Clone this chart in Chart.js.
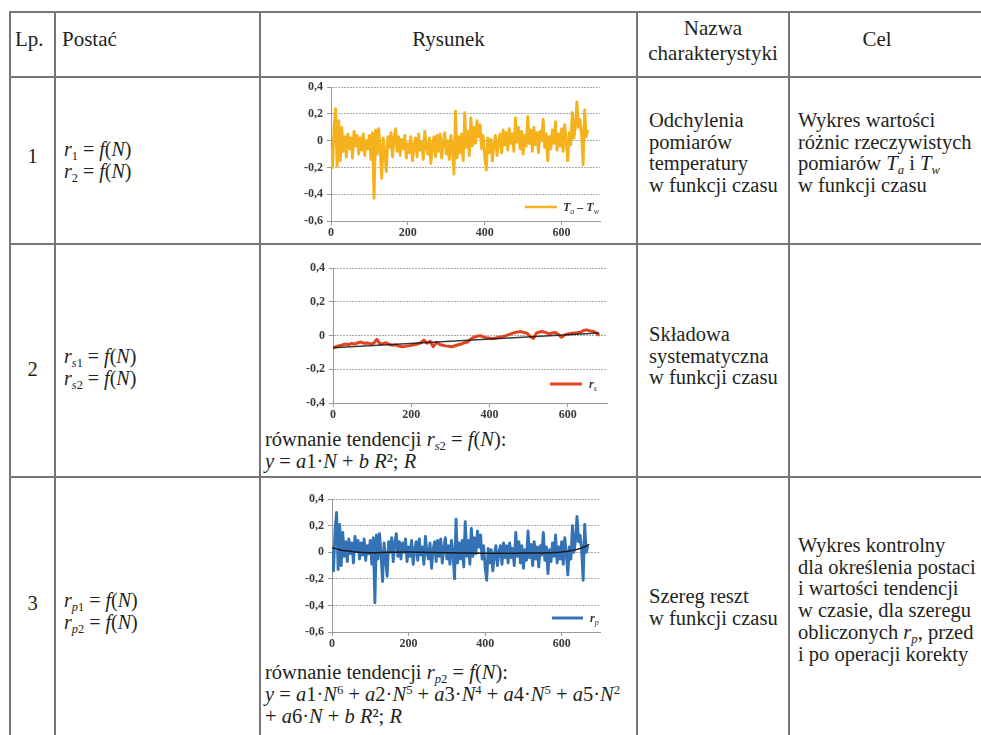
<!DOCTYPE html>
<html><head><meta charset="utf-8">
<script src="https://cdn.jsdelivr.net/npm/chart.js@4.4.1/dist/chart.umd.min.js"></script>
<style>
html,body{margin:0;padding:0;background:#fff;width:981px;height:735px;overflow:hidden;}
body{position:relative;font-family:"Liberation Serif","Times New Roman",Times,"DejaVu Serif",serif;color:#231f20;}
.hl{position:absolute;left:9px;width:980px;height:2px;background:#767676;}
.vl{position:absolute;top:11px;width:2px;height:730px;background:#767676;}
.h{position:absolute;font-size:21px;line-height:25px;white-space:nowrap;}
.t{position:absolute;font-size:20.5px;line-height:21.7px;white-space:nowrap;}
.f{position:absolute;font-size:20px;line-height:22px;white-space:nowrap;}
.e{position:absolute;font-size:20.5px;line-height:21.5px;white-space:nowrap;}
sub{font-size:0.62em;vertical-align:-0.3em;line-height:0;}
sup{font-size:0.62em;vertical-align:0.55em;line-height:0;}
.c{text-align:center;}
.cv{position:absolute;}
</style>
</head><body>
<div class="hl" style="top:11px"></div>
<div class="hl" style="top:76px"></div>
<div class="hl" style="top:243px"></div>
<div class="hl" style="top:476px"></div>
<div class="vl" style="left:9px"></div>
<div class="vl" style="left:54px"></div>
<div class="vl" style="left:259px"></div>
<div class="vl" style="left:636px"></div>
<div class="vl" style="left:788px"></div>

<div class="h" style="left:15px;top:27px">Lp.</div>
<div class="h" style="left:62px;top:27px">Postać</div>
<div class="h c" style="left:261px;width:375px;top:27px">Rysunek</div>
<div class="h c" style="left:638px;width:150px;top:16px">Nazwa<br>charakterystyki</div>
<div class="h c" style="left:790px;width:174px;top:27px">Cel</div>

<div class="t c" style="left:11px;width:43px;top:146px">1</div>
<div class="t c" style="left:11px;width:43px;top:359px">2</div>
<div class="t c" style="left:11px;width:43px;top:593px">3</div>

<div class="f" style="left:64px;top:138px"><i>r</i><sub>1</sub> = <i>f</i>(<i>N</i>)<br><i>r</i><sub>2</sub> = <i>f</i>(<i>N</i>)</div>
<div class="f" style="left:64px;top:345px"><i>r</i><sub><i>s</i>1</sub> = <i>f</i>(<i>N</i>)<br><i>r</i><sub><i>s</i>2</sub> = <i>f</i>(<i>N</i>)</div>
<div class="f" style="left:64px;top:589px"><i>r</i><sub><i>p</i>1</sub> = <i>f</i>(<i>N</i>)<br><i>r</i><sub><i>p</i>2</sub> = <i>f</i>(<i>N</i>)</div>

<div class="t" style="left:649px;top:110px">Odchylenia<br>pomiarów<br>temperatury<br>w funkcji czasu</div>
<div class="t" style="left:649px;top:324px">Składowa<br>systematyczna<br>w funkcji czasu</div>
<div class="t" style="left:649px;top:586px">Szereg reszt<br>w funkcji czasu</div>

<div class="t" style="left:798px;top:110px">Wykres wartości<br>różnic rzeczywistych<br>pomiarów <i>T</i><sub><i>a</i></sub> i <i>T</i><sub><i>w</i></sub><br>w funkcji czasu</div>
<div class="t" style="left:798px;top:535px">Wykres kontrolny<br>dla określenia postaci<br>i wartości tendencji<br>w czasie, dla szeregu<br>obliczonych <i>r</i><sub><i>p</i></sub>, przed<br>i po operacji korekty</div>

<div class="e" style="left:265px;top:429px">równanie tendencji <i>r</i><sub><i>s</i>2</sub> = <i>f</i>(<i>N</i>):<br><i>y</i> = <i>a</i>1·<i>N</i> + <i>b R</i>²; <i>R</i></div>
<div class="e" style="left:265px;top:661px;line-height:22px">równanie tendencji <i>r</i><sub><i>p</i>2</sub> = <i>f</i>(<i>N</i>):<br><i>y</i> = <i>a</i>1·<i>N</i><sup>6</sup> + <i>a</i>2·<i>N</i><sup>5</sup> + <i>a</i>3·<i>N</i><sup>4</sup> + <i>a</i>4·<i>N</i><sup>5</sup> + <i>a</i>5·<i>N</i><sup>2</sup><br>+ <i>a</i>6·<i>N</i> + <i>b R</i>²; <i>R</i></div>

<canvas id="c1" class="cv" width="323" height="167" style="left:285px;top:76px"></canvas>
<canvas id="c2" class="cv" width="328" height="168" style="left:287px;top:257px"></canvas>
<canvas id="c3" class="cv" width="322" height="166" style="left:286px;top:488px"></canvas>

<script>
// ---- data ----
const N_SAMPLES = [0,4,8,12,16,20,24,28,32,36,40,44,48,52,56,60,64,68,72,76,80,84,88,92,96,100,104,108,112,116,120,124,128,132,136,140,144,148,152,156,160,164,168,172,176,180,184,188,192,196,200,204,208,212,216,220,224,228,232,236,240,244,248,252,256,260,264,268,272,276,280,284,288,292,296,300,304,308,312,316,320,324,328,332,336,340,344,348,352,356,360,364,368,372,376,380,384,388,392,396,400,404,408,412,416,420,424,428,432,436,440,444,448,452,456,460,464,468,472,476,480,484,488,492,496,500,504,508,512,516,520,524,528,532,536,540,544,548,552,556,560,564,568,572,576,580,584,588,592,596,600,604,608,612,616,620,624,628,632,636,640,644,648,652,656,660,664,668];

// Ta - Tw (chart 1)
const R_DIFF = [-0.05,-0.2,0.1,0.24,-0.19,0.15,-0.15,0.1,-0.08,0.03,-0.12,0.05,-0.06,0.02,-0.13,0.07,-0.04,0.04,-0.1,0.02,-0.07,0.05,-0.11,0.0,-0.06,0.04,-0.14,0.06,-0.43,0.08,-0.1,0.09,-0.06,-0.28,0.02,-0.09,-0.23,0.03,-0.05,0.06,-0.12,0.02,0.09,-0.08,0.03,-0.11,0.01,-0.06,0.04,-0.13,-0.02,-0.09,0.03,-0.15,-0.04,0.02,-0.12,0.05,-0.07,-0.01,-0.14,0.07,-0.05,-0.1,0.02,-0.17,-0.03,0.03,-0.12,0.04,-0.08,0.05,-0.13,-0.02,0.06,-0.1,0.0,-0.14,0.04,-0.06,-0.25,0.22,-0.13,0.03,-0.09,0.05,-0.15,0.21,-0.05,0.07,-0.11,0.17,-0.04,0.1,-0.02,0.15,0.03,0.12,-0.06,0.04,-0.12,-0.22,0.02,-0.09,0.01,-0.15,-0.03,0.04,-0.11,-0.01,0.05,-0.09,0.08,-0.03,0.06,-0.07,0.09,-0.02,0.05,-0.08,0.17,-0.01,0.1,-0.06,0.07,-0.1,0.04,-0.04,0.18,-0.02,0.08,-0.08,0.1,-0.03,0.06,-0.09,0.07,0.0,0.16,-0.05,0.05,-0.15,0.03,-0.06,0.08,-0.02,0.14,-0.07,0.05,-0.04,0.09,-0.08,0.12,0.0,-0.15,0.06,-0.03,0.21,0.02,0.11,0.29,0.1,0.16,0.05,-0.18,0.23,0.03,0.08];

// r_s (chart 2)
const N_SYS = [0,8,16,24,32,40,48,56,64,72,80,88,96,104,112,120,128,136,144,152,160,168,176,184,192,200,208,216,224,232,240,248,256,264,272,280,288,296,304,312,320,328,336,344,352,360,368,376,384,392,400,408,416,424,432,440,448,456,464,472,480,488,496,504,512,520,528,536,544,552,560,568,576,584,592,600,608,616,624,632,640,648,656,664,672,680];
const R_SYS = [-0.072,-0.066,-0.06,-0.056,-0.05,-0.054,-0.047,-0.05,-0.042,-0.038,-0.046,-0.044,-0.049,-0.045,-0.022,-0.05,-0.047,-0.042,-0.053,-0.058,-0.055,-0.062,-0.066,-0.064,-0.061,-0.058,-0.054,-0.05,-0.043,-0.027,-0.045,-0.034,-0.066,-0.04,-0.052,-0.057,-0.061,-0.063,-0.066,-0.06,-0.054,-0.05,-0.042,-0.038,-0.02,-0.01,-0.004,0.0,-0.008,-0.012,-0.015,-0.018,-0.014,-0.01,-0.006,-0.002,0.004,0.012,0.018,0.022,0.024,0.018,0.014,-0.005,-0.017,0.016,0.021,0.024,0.018,0.01,0.016,0.019,0.006,-0.01,0.004,0.01,0.012,0.015,0.017,0.02,0.03,0.034,0.028,0.025,0.018,0.0];
const N_SYS_TREND = [0,680];
const R_SYS_TREND = [-0.072,0.016];

// r_p (chart 3)
const R_RES = [0.02,-0.14,0.17,0.3,-0.13,0.21,-0.1,0.15,-0.03,0.08,-0.07,0.1,-0.01,0.07,-0.08,0.12,0.01,0.09,-0.05,0.07,-0.02,0.1,-0.06,0.05,-0.01,0.09,-0.09,0.11,-0.38,0.13,-0.05,0.14,-0.01,-0.22,0.07,-0.04,-0.18,0.08,0.0,0.11,-0.07,0.07,0.14,-0.03,0.08,-0.05,0.07,0.0,0.1,-0.07,0.04,-0.03,0.09,-0.09,0.02,0.08,-0.06,0.1,-0.02,0.04,-0.09,0.12,0.0,-0.05,0.07,-0.12,0.02,0.08,-0.07,0.09,-0.03,0.1,-0.08,0.03,0.11,-0.05,0.05,-0.09,0.09,-0.01,-0.2,0.25,-0.08,0.07,-0.05,0.09,-0.11,0.23,-0.03,0.09,-0.09,0.18,-0.03,0.11,-0.01,0.16,0.04,0.13,-0.05,0.05,-0.11,-0.21,0.03,-0.08,0.02,-0.14,-0.02,0.05,-0.1,0.0,0.05,-0.09,0.07,-0.04,0.05,-0.08,0.07,-0.04,0.03,-0.1,0.15,-0.03,0.08,-0.08,0.05,-0.12,0.02,-0.06,0.16,-0.04,0.06,-0.1,0.08,-0.05,0.04,-0.11,0.05,-0.02,0.15,-0.06,0.04,-0.16,0.02,-0.07,0.07,-0.03,0.13,-0.08,0.04,-0.05,0.08,-0.09,0.11,-0.01,-0.17,0.04,-0.05,0.2,0.0,0.09,0.27,0.08,0.13,0.02,-0.21,0.21,0.0,0.05];
const N_RES_TREND = [0,20,40,60,100,150,200,250,300,350,400,450,500,550,580,600,620,640,660,672];
const R_RES_TREND = [0.035,0.02,0.01,0.003,-0.003,0.0,0.002,-0.001,-0.004,-0.006,-0.007,-0.007,-0.006,-0.005,-0.002,0.003,0.01,0.022,0.042,0.06];

const X_TICKS = [0,200,400,600];

// ---- helpers ----
const pts = (xs, ys) => xs.map((x, i) => ({x, y: ys[i]}));
const FONT = '"Liberation Serif", "Times New Roman", Times, "DejaVu Serif", serif';

const subLegend = {
  id: 'subLegend',
  afterDatasetsDraw(chart, args, o) {
    const {ctx, chartArea: a} = chart;
    const y = a.bottom - o.dy;
    const x1 = a.right - o.dx;
    ctx.save();
    ctx.strokeStyle = o.color; ctx.lineWidth = o.width; ctx.lineCap = 'butt';
    ctx.beginPath(); ctx.moveTo(x1 - o.len, y); ctx.lineTo(x1, y); ctx.stroke();
    let x = x1 + o.gap;
    ctx.fillStyle = '#333';
    ctx.textBaseline = 'alphabetic';
    for (const p of o.parts) {
      ctx.font = p.sub ? 'italic 8px ' + FONT : 'italic bold 12px ' + FONT;
      ctx.fillText(p.t, x, y + 4 + (p.sub ? 3 : 0));
      x += ctx.measureText(p.t).width;
    }
    ctx.restore();
  }
};

function makeChart(id, datasets, yMin, legend) {
  return new Chart(document.getElementById(id), {
    type: 'line',
    data: {datasets},
    options: {
      responsive: false, animation: false, devicePixelRatio: 1,
      layout: {padding: {top: 9, right: 8, left: 0, bottom: 0}},
      elements: {point: {radius: 0}, line: {tension: 0, borderJoinStyle: 'round'}},
      scales: {
        x: {
          type: 'linear', min: 0, max: 700,
          afterBuildTicks: s => { s.ticks = X_TICKS.map(v => ({value: v})); },
          afterFit: s => { s.height = 22; },
          ticks: {stepSize: 200, padding: 1, color: '#3a3a3a', maxRotation: 0,
                  font: {family: FONT, size: 12, weight: 'bold'}},
          grid: {drawOnChartArea: false, drawTicks: true, tickLength: 4, tickColor: '#9a9a9a'},
          border: {display: true, color: '#9a9a9a', width: 1}
        },
        y: {
          min: yMin, max: 0.4,
          afterFit: s => { s.width = 46; },
          ticks: {stepSize: 0.2, padding: 4, color: '#3a3a3a',
                  font: {family: FONT, size: 12, weight: 'bold'},
                  callback: v => { const r = Math.round(v * 10) / 10; return r === 0 ? '0' : r.toFixed(1).replace('.', ','); }},
          grid: {color: '#a8a8a8', lineWidth: 1, tickLength: 4, tickColor: '#9a9a9a'},
          border: {display: true, color: '#9a9a9a', width: 1, dash: [2, 1]}
        }
      },
      plugins: {legend: {display: false}, tooltip: {enabled: false}, subLegend: legend}
    },
    plugins: [subLegend]
  });
}

makeChart('c1', [
  {data: pts(N_SAMPLES, R_DIFF), borderColor: '#F5B21C', borderWidth: 2.9}
], -0.6, {color: '#F5B21C', width: 2.5, len: 32, dx: 43, dy: 14, gap: 6,
  parts: [{t: 'T'}, {t: 'a', sub: true}, {t: ' – '}, {t: 'T'}, {t: 'w', sub: true}]});

makeChart('c2', [
  {data: pts(N_SYS_TREND, R_SYS_TREND), borderColor: 'rgba(25,25,25,0.85)', borderWidth: 1.5},
  {data: pts(N_SYS, R_SYS), borderColor: '#E2431F', borderWidth: 3}
], -0.4, {color: '#E2431F', width: 3, len: 32, dx: 25, dy: 19, gap: 7,
  parts: [{t: 'r'}, {t: 's', sub: true}]});

makeChart('c3', [
  {data: pts(N_RES_TREND, R_RES_TREND), borderColor: '#1a1a1a', borderWidth: 1.5, cubicInterpolationMode: 'monotone'},
  {data: pts(N_SAMPLES, R_RES), borderColor: '#3472B6', borderWidth: 2.9}
], -0.6, {color: '#3472B6', width: 3, len: 31, dx: 17, dy: 14, gap: 7,
  parts: [{t: 'r'}, {t: 'p', sub: true}]});
</script>
</body></html>
